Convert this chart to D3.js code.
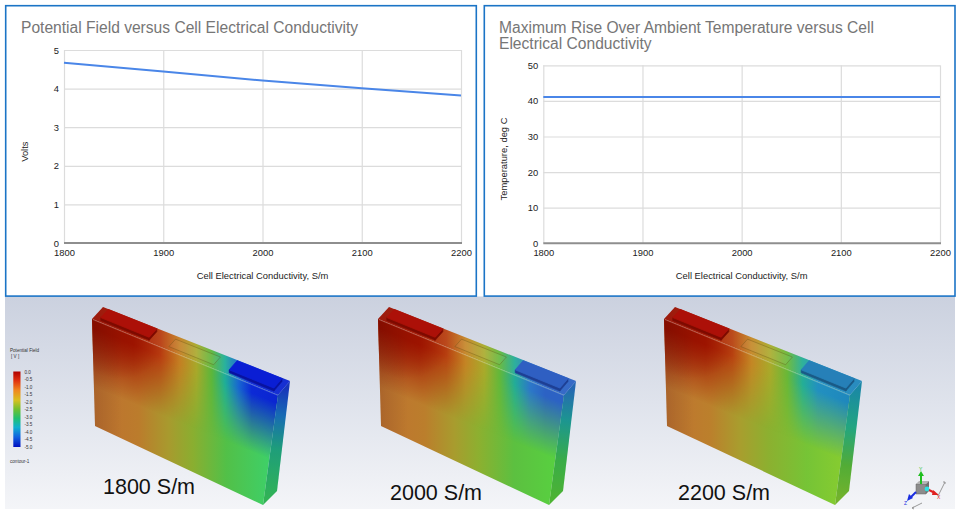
<!DOCTYPE html>
<html><head><meta charset="utf-8">
<script src="https://cdn.jsdelivr.net/npm/d3@7"></script>
<style>
html,body{margin:0;padding:0;background:#fff;}
svg{display:block;font-family:"Liberation Sans",Arial,sans-serif;}
</style></head>
<body><svg id="c" width="958" height="511"></svg>
<script>
// ---------- data ----------
const conductivity = [1800, 1900, 2000, 2100, 2200];
const potentialVolts = [4.67, 4.44, 4.21, 4.01, 3.82];
const maxTempRise = [41.1, 41.1, 41.1, 41.1, 41.1];
const xTickValues = [1800, 1900, 2000, 2100, 2200];
const voltTicks = [0, 1, 2, 3, 4, 5];
const tempTicks = [0, 10, 20, 30, 40, 50];
const caseLabels = ["1800 S/m", "2000 S/m", "2200 S/m"];
const legendLabels = ["0.0","-0.5","-1.0","-1.5","-2.0","-2.5","-3.0","-3.5","-4.0","-4.5","-5.0"];

const svg = d3.select("#c");
const defs = svg.append("defs");
svg.append("rect").attr("width",958).attr("height",511).attr("fill","#fff");

function linGrad(id, x1,y1,x2,y2, stops, units){
  const g = defs.append("linearGradient").attr("id",id)
    .attr("gradientUnits", units||"userSpaceOnUse")
    .attr("x1",x1).attr("y1",y1).attr("x2",x2).attr("y2",y2);
  stops.forEach(s=>g.append("stop").attr("offset",s[0]).attr("stop-color",s[1]).attr("stop-opacity", s[2]==null?1:s[2]));
  return "url(#"+id+")";
}

// ---------- bottom picture ----------
linGrad("bgImg",0,297,0,509,[[0,"#cbd1df"],[0.5,"#dfe3ec"],[1,"#f4f5f8"]]);
svg.append("rect").attr("x",5).attr("y",296.5).attr("width",950).attr("height",212.5).attr("fill","url(#bgImg)");

// legend colour bar
linGrad("cbar",0,0,0,1,[[0,"#b00000"],[0.12,"#e03010"],[0.25,"#f08820"],[0.38,"#d8c020"],[0.5,"#70c030"],[0.62,"#20c070"],[0.74,"#10b0d0"],[0.87,"#1060e0"],[1,"#0010c0"]],"objectBoundingBox");
const lg = svg.append("g").attr("font-size",4.6).attr("fill","#333");
lg.append("text").attr("x",10).attr("y",352).text("Potential Field");
lg.append("text").attr("x",11).attr("y",358).text("[ V ]");
lg.append("rect").attr("x",13.3).attr("y",371.5).attr("width",7.2).attr("height",75.5).attr("fill","url(#cbar)");
const ly = d3.scaleLinear().domain([0, legendLabels.length-1]).range([373.5, 448.5]);
lg.selectAll("text.lb").data(legendLabels).join("text").attr("class","lb")
  .attr("x",24.5).attr("y",(d,i)=>ly(i)).text(d=>d);
lg.append("text").attr("x",10).attr("y",462.5).text("contour-1");

// battery geometry (local coordinates)
const G = {TL:[0,0], TR:[186,76], BR:[171,186], BL:[3,107], BTL:[11,-12], BTR:[198,62], BBR:[185,172]};
const lerp=(a,b,t)=>[a[0]+(b[0]-a[0])*t, a[1]+(b[1]-a[1])*t];
const P=(u,v)=>lerp(lerp(G.TL,G.TR,u), lerp(G.BTL,G.BTR,u), v);
const pts=a=>a.map(p=>p.join(",")).join(" ");
const up=(p,h)=>[p[0],p[1]-h];

const batteries = [
  {ox:92, oy:319, lx:103, ly:494,
   top:[[0,"#960e00"],[0.22,"#a41600"],[0.36,"#b83c10"],[0.46,"#c47e22"],[0.55,"#a8a82a"],[0.63,"#5cb63a"],[0.7,"#1eae98"],[0.77,"#1868d0"],[0.84,"#0c2ad6"],[1,"#0a24d0"]],
   bot:[[0,"#bf7030"],[0.25,"#bb7c2c"],[0.42,"#a89a2e"],[0.56,"#8aae30"],[0.75,"#52c048"],[1,"#3ed068"]],
   side:[[0,"#1a3cd0"],[0.25,"#1a78c8"],[0.55,"#22b088"],[1,"#38c860"]],
   blueTop:"#0a1ed4", blueSide:"#0812a0"},
  {ox:378, oy:319, lx:390, ly:500,
   top:[[0,"#960e00"],[0.22,"#a41600"],[0.36,"#b84010"],[0.46,"#c48424"],[0.56,"#a8aa2a"],[0.64,"#62b83a"],[0.72,"#22ac98"],[0.8,"#2c78c8"],[0.88,"#2c62c4"],[1,"#2c62c4"]],
   bot:[[0,"#c07230"],[0.25,"#bb7e2c"],[0.42,"#a89c2e"],[0.56,"#8cb030"],[0.76,"#5cc040"],[1,"#58d040"]],
   side:[[0,"#2a74c8"],[0.3,"#20a8a0"],[0.65,"#40c050"],[1,"#56c83a"]],
   blueTop:"#2f5fc2", blueSide:"#1e3f94"},
  {ox:664, oy:319, lx:678, ly:499.5,
   top:[[0,"#960e00"],[0.22,"#a41600"],[0.36,"#b84210"],[0.46,"#c48624"],[0.56,"#a8aa2a"],[0.65,"#68b838"],[0.73,"#24ae96"],[0.81,"#2290c0"],[1,"#1e86bc"]],
   bot:[[0,"#c07230"],[0.25,"#bb802c"],[0.42,"#a89e2e"],[0.58,"#8cb030"],[0.8,"#76c436"],[1,"#86cc30"]],
   side:[[0,"#1e98b8"],[0.35,"#26b890"],[0.7,"#5cc03c"],[1,"#80c832"]],
   blueTop:"#2680b8", blueSide:"#1a5a86"}
];

batteries.forEach((b,i)=>{
  const top = linGrad("top"+i, 0,0,190,0, b.top);
  const bot = linGrad("bot"+i, 3,0,178,0, b.bot);
  const side = linGrad("side"+i, 192,69,178,180, b.side);
  linGrad("mg"+i, 93,38,55,131, [[0,"#fff"],[0.08,"#fff"],[0.62,"#000"],[1,"#000"]]);
  const m = defs.append("mask").attr("id","m"+i).attr("maskUnits","userSpaceOnUse")
    .attr("x",-30).attr("y",-40).attr("width",280).attr("height",260);
  m.append("rect").attr("x",-30).attr("y",-40).attr("width",280).attr("height",260).attr("fill","url(#mg"+i+")");
  const rg = defs.append("radialGradient").attr("id","rb"+i);
  rg.append("stop").attr("offset",0).attr("stop-color","#901000").attr("stop-opacity",0.55);
  rg.append("stop").attr("offset",1).attr("stop-color","#901000").attr("stop-opacity",0);

  const g = svg.append("g").attr("transform",`translate(${b.ox},${b.oy})`);
  const front=[G.TL,G.TR,G.BR,G.BL];
  g.append("polygon").attr("points",pts(front)).attr("fill",bot);
  g.append("polygon").attr("points",pts(front)).attr("fill",top).attr("mask","url(#m"+i+")");
  g.append("clipPath").attr("id","cf"+i).append("polygon").attr("points",pts(front));
  g.append("ellipse").attr("cx",28).attr("cy",16).attr("rx",48).attr("ry",44)
    .attr("fill","url(#rb"+i+")").attr("clip-path","url(#cf"+i+")");
  const sh = linGrad("sh"+i,0,0,30,0,[[0,"#000",0.12],[1,"#000",0]]);
  g.append("polygon").attr("points",pts(front)).attr("fill",sh);
  // side face
  const sideP=[G.TR,G.BTR,G.BBR,G.BR];
  g.append("polygon").attr("points",pts(sideP)).attr("fill",side);
  g.append("polygon").attr("points",pts(sideP)).attr("fill","#000").attr("opacity",0.1);
  // top face
  const topP=[G.TL,G.BTL,G.BTR,G.TR];
  g.append("polygon").attr("points",pts(topP)).attr("fill",top);
  g.append("polygon").attr("points",pts(topP)).attr("fill","#fff").attr("opacity",0.05);
  // highlight edge
  g.append("line").attr("x1",1).attr("y1",0.6).attr("x2",186).attr("y2",76.4)
    .attr("stroke","#fff").attr("stroke-opacity",0.3).attr("stroke-width",0.8);
  // vent
  const vent=[P(0.4,0.22),P(0.64,0.22),P(0.64,0.8),P(0.4,0.8)];
  g.append("polygon").attr("points",pts(vent)).attr("fill","#fff").attr("fill-opacity",0.05)
    .attr("stroke","#5a4a10").attr("stroke-opacity",0.45).attr("stroke-width",0.7).attr("stroke-linejoin","round");
  // terminals
  function terminal(u0,u1,cTop,cSide){
    const h=3, v0=0.12, v1=0.8;
    const a=P(u0,v0), bb=P(u1,v0), c=P(u1,v1), d=P(u0,v1);
    g.append("polygon").attr("points",pts([a,bb,up(bb,h),up(a,h)])).attr("fill",cSide).attr("stroke",cSide).attr("stroke-width",0.6);
    g.append("polygon").attr("points",pts([bb,c,up(c,h),up(bb,h)])).attr("fill",cSide).attr("stroke",cSide).attr("stroke-width",0.6);
    g.append("polygon").attr("points",pts([up(a,h),up(bb,h),up(c,h),up(d,h)])).attr("fill",cTop)
      .attr("stroke",cTop).attr("stroke-width",0.8).attr("stroke-linejoin","round");
  }
  terminal(0.04,0.3,"#ac1008","#7e0a00");
  terminal(0.73,0.97,b.blueTop,b.blueSide);

  svg.append("text").attr("x",b.lx).attr("y",b.ly).attr("font-size",21.5).attr("fill","#111").text(caseLabels[i]);
});

// axis triad
const tr = svg.append("g");
tr.append("polygon").attr("points","916,484 926,484 926,494 916,494").attr("fill","#8c8c8c").attr("stroke","#666").attr("stroke-width",0.5);
tr.append("polygon").attr("points","916,484 919,481 929,481 926,484").attr("fill","#b4b4b4");
tr.append("polygon").attr("points","926,484 929,481 929,491 926,494").attr("fill","#707070");
tr.append("line").attr("x1",921).attr("y1",484).attr("x2",921).attr("y2",474).attr("stroke","#1fbf1f").attr("stroke-width",2);
tr.append("polygon").attr("points","918,476 924,476 921,471").attr("fill","#1fbf1f");
tr.append("text").attr("x",919).attr("y",471).attr("font-size",5).attr("fill","#1fbf1f").text("Y");
tr.append("line").attr("x1",927).attr("y1",489).attr("x2",935).attr("y2",493).attr("stroke","#e02020").attr("stroke-width",2);
tr.append("polygon").attr("points","933,490 939,495 932,495").attr("fill","#e02020");
tr.append("text").attr("x",937).attr("y",499).attr("font-size",5).attr("fill","#e02020").text("X");
tr.append("line").attr("x1",916).attr("y1",492).attr("x2",910).attr("y2",498).attr("stroke","#1a2ee0").attr("stroke-width",2);
tr.append("polygon").attr("points","907,501 909,494 913,498").attr("fill","#1a2ee0");
tr.append("text").attr("x",904).attr("y",505).attr("font-size",5).attr("fill","#1a2ee0").text("Z");
tr.append("circle").attr("cx",927).attr("cy",489).attr("r",2.4).attr("fill","#30e0e0");
tr.append("path").attr("d","M938,496 L943,486 L945,482 M943,482 l2,0 l0,2").attr("fill","none").attr("stroke","#999").attr("stroke-width",1);
tr.append("path").attr("d","M912,508 L922,503 M912,508 l2,-1 m-2,1 l2,1").attr("fill","none").attr("stroke","#999").attr("stroke-width",1);

// ---------- charts ----------
function drawChart(c){
  const g = svg.append("g");
  const x = d3.scaleLinear().domain([xTickValues[0], xTickValues[xTickValues.length-1]]).range([c.x0,c.x1]);
  const y = d3.scaleLinear().domain([c.ticks[0], c.ticks[c.ticks.length-1]]).range([c.y0,c.y1]);
  const gy = g.append("g").attr("transform",`translate(${c.x0},0)`)
    .call(d3.axisLeft(y).tickValues(c.ticks.slice(1)).tickSize(-(c.x1-c.x0)).tickFormat(""));
  const gx = g.append("g").attr("transform",`translate(0,${c.y0})`)
    .call(d3.axisBottom(x).tickValues(xTickValues).tickSize(-(c.y0-c.y1)).tickFormat(""));
  [gy,gx].forEach(a=>{a.select(".domain").remove(); a.selectAll("line").attr("stroke","#dcdcdc").attr("stroke-width",1.2);});
  g.append("line").attr("x1",c.x0).attr("x2",c.x1+1).attr("y1",y(c.ticks[0])).attr("y2",y(c.ticks[0]))
    .attr("stroke","#8e8e8e").attr("stroke-width",2);
  const ay = g.append("g").attr("transform",`translate(${c.x0},0)`)
    .call(d3.axisLeft(y).tickValues(c.ticks).tickSize(0).tickPadding(5).tickFormat(d3.format("d")));
  const ax = g.append("g").attr("transform",`translate(0,${c.y0})`)
    .call(d3.axisBottom(x).tickValues(xTickValues).tickSize(0).tickPadding(6.3).tickFormat(d3.format("d")));
  [ay,ax].forEach(a=>{a.select(".domain").remove();
    a.attr("font-family",null).attr("font-size",null);
    a.selectAll("text").attr("font-size",9.4).attr("fill","#222").attr("font-family","Liberation Sans, Arial, sans-serif");});
  g.append("path").datum(conductivity.map((d,i)=>[d,c.values[i]]))
    .attr("d", d3.line().x(d=>x(d[0])).y(d=>y(d[1])))
    .attr("fill","none").attr("stroke","#4a86e8").attr("stroke-width",2);
  c.title.forEach((t,k)=>g.append("text").attr("x",c.tx).attr("y",33.2+k*16.1)
    .attr("font-size",15.6).attr("fill","#767676").text(t));
  g.append("text").attr("x",(c.x0+c.x1)/2).attr("y",279.3).attr("text-anchor","middle")
    .attr("font-size",9.4).attr("fill","#222").text("Cell Electrical Conductivity, S/m");
  g.append("text").attr("transform",`translate(${c.ytx},${c.yty}) rotate(-90)`).attr("text-anchor","middle")
    .attr("font-size",9.4).attr("fill","#222").text(c.yTitle);
}

drawChart({x0:64, x1:461, y0:243, y1:50, ticks:voltTicks, values:potentialVolts,
  title:["Potential Field versus Cell Electrical Conductivity"], tx:21, yTitle:"Volts", ytx:28.4, yty:151.7});
drawChart({x0:543.3, x1:940, y0:243.3, y1:65.3, ticks:tempTicks, values:maxTempRise,
  title:["Maximum Rise Over Ambient Temperature versus Cell","Electrical Conductivity"], tx:499, yTitle:"Temperature, deg C", ytx:507, yty:159});

svg.append("rect").attr("x",5.7).attr("y",5.7).attr("width",470.6).attr("height",290.4)
  .attr("fill","none").attr("stroke","#1b74c6").attr("stroke-width",1.6);
svg.append("rect").attr("x",484.3).attr("y",5.7).attr("width",470.7).attr("height",290.4)
  .attr("fill","none").attr("stroke","#1b74c6").attr("stroke-width",1.6);
</script>
</body></html>
